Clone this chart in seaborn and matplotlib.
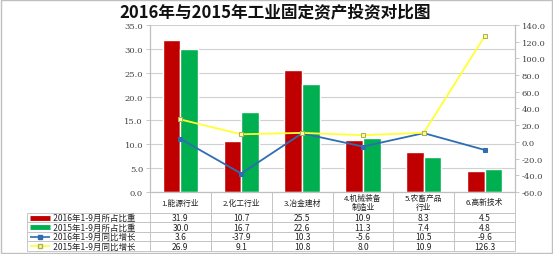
import numpy as np
import pandas as pd
import matplotlib
matplotlib.use("Agg")
import matplotlib.pyplot as plt
import seaborn as sns
from matplotlib.lines import Line2D
from matplotlib.patches import Rectangle

categories = ["1.能源行业", "2.化工行业", "3.冶金建材", "4.机械装备\n制造业", "5.农畜产品\n行业", "6.高新技术"]
share_2016 = [31.9, 10.7, 25.5, 10.9, 8.3, 4.5]
share_2015 = [30.0, 16.7, 22.6, 11.3, 7.4, 4.8]
growth_2016 = [3.6, -37.9, 10.3, -5.6, 10.5, -9.6]
growth_2015 = [26.9, 9.1, 10.8, 8.0, 10.9, 126.3]
series_names = ["2016年1-9月所占比重", "2015年1-9月所占比重", "2016年1-9月同比增长", "2015年1-9月同比增长"]
left_ticks = [0, 5, 10, 15, 20, 25, 30, 35]
right_ticks = [-60, -40, -20, 0, 20, 40, 60, 80, 100, 120, 140]

red = "#C00000"
green = "#00B050"
blue = "#2E6DB4"
yellow = "#FFFF33"

sns.set_theme(style="white")
plt.rcParams['font.family'] = ['Noto Sans CJK SC', 'DejaVu Sans']

fig = plt.figure(figsize=(5.53, 2.55), dpi=100)
ax = fig.add_axes([150/553, 1-193/255, 365/553, 167/255])

df = pd.DataFrame({
    "cat": categories * 2,
    "val": share_2016 + share_2015,
    "series": [series_names[0]] * 6 + [series_names[1]] * 6,
})
sns.barplot(data=df, x="cat", y="val", hue="series", palette=[red, green],
            width=0.58, ax=ax, legend=False, saturation=1)
ax.set_ylim(0, 35)
ax.set_xlim(-0.5, 5.5)
ax.set_yticks(left_ticks)
ax.set_yticklabels([f"{t:.1f}" for t in left_ticks], fontsize=6, family="DejaVu Serif", color="#404040")
ax.set_xticks([])
ax.set_xlabel("")
ax.set_ylabel("")
ax.grid(axis="y", color="#D0D0D0", linewidth=0.8)
ax.set_axisbelow(True)
ax.spines["top"].set_visible(False)
for s in ["left", "bottom", "right"]:
    ax.spines[s].set_color("#BFBFBF")
    ax.spines[s].set_linewidth(0.8)
ax.tick_params(axis="y", length=3, width=0.6, color="#BFBFBF", pad=2, left=True)

ax2 = ax.twinx()
xpos = np.arange(len(categories))
sns.lineplot(x=xpos, y=growth_2016, ax=ax2, color=blue, marker="s", markersize=3.5,
             markeredgecolor=blue, linewidth=1.3)
sns.lineplot(x=xpos, y=growth_2015, ax=ax2, color=yellow, marker="s", markersize=3.5,
             markerfacecolor="#FFFF99", markeredgecolor="#B0B050", linewidth=1.3)
ax2.set_ylim(-60, 140)
ax2.set_yticks(right_ticks)
ax2.set_yticklabels([f"{t:.1f}" for t in right_ticks], fontsize=6, family="DejaVu Serif", color="#404040")
ax2.tick_params(axis="y", length=3, width=0.6, color="#BFBFBF", pad=2, right=True)
ax2.set_xlim(-0.5, 5.5)
ax2.spines["top"].set_visible(False)
for s in ["left", "bottom", "right"]:
    ax2.spines[s].set_color("#BFBFBF")
    ax2.spines[s].set_linewidth(0.8)

# data table (first column holds the series names with legend keys)
value_rows = [share_2016, share_2015, growth_2016, growth_2015]
cell_text = [["      " + name] + [f"{v:.1f}" for v in vals]
             for name, vals in zip(series_names, value_rows)]
left_frac = (27 - 150) / 365
tbl = ax.table(cellText=cell_text, colLabels=[""] + categories, cellLoc="center",
               bbox=[left_frac, (193 - 252) / 167, 1 - left_frac, 59 / 167])
tbl.auto_set_font_size(False)
for (r, c), cell in tbl.get_celld().items():
    cell.set_edgecolor("#BFBFBF")
    cell.set_linewidth(0.6)
    t = cell.get_text()
    t.set_color("#222222")
    if r == 0:
        t.set_fontsize(5.6)
        t.set_linespacing(1.0)
        cell.set_height(0.44)
    else:
        t.set_fontsize(6.1)
        cell.set_height(0.2)
    cell.set_width(123 / 60.8 if c == 0 else 1.0)
    if c == 0:
        cell._loc = "left"
        cell.PAD = 0.02
        if r == 0:
            cell.visible_edges = ""

fig.canvas.draw()
renderer = fig.canvas.get_renderer()
inv = fig.transFigure.inverted()
key_styles = [
    dict(color=red, lw=3.5, marker=None),
    dict(color=green, lw=3.5, marker=None),
    dict(color=blue, lw=1.2, marker="s", ms=3, mfc=blue, mec=blue),
    dict(color=yellow, lw=1.2, marker="s", ms=3, mfc="#FFFF99", mec="#B0B050"),
]
for i, st in enumerate(key_styles):
    cell = tbl[(i + 1, 0)]
    bb = cell.get_window_extent(renderer).transformed(inv)
    yc = (bb.y0 + bb.y1) / 2
    x0 = bb.x0 + 0.005
    x1 = x0 + 0.036
    fig.add_artist(Line2D([x0, x1], [yc, yc], color=st["color"], lw=st["lw"],
                          solid_capstyle="butt", transform=fig.transFigure))
    if st["marker"]:
        fig.add_artist(Line2D([(x0 + x1) / 2], [yc], marker=st["marker"], ms=st["ms"],
                              mfc=st["mfc"], mec=st["mec"], transform=fig.transFigure))

fig.text(0.497, 1 - 12 / 255, "2016年与2015年工业固定资产投资对比图", ha="center", va="center",
         fontsize=12, fontweight="bold", color="#111111")

fig.add_artist(Rectangle((0.002, 0.004), 0.996, 0.992, transform=fig.transFigure,
                         fill=False, edgecolor="#BFBFBF", linewidth=1))

fig.savefig("out.png", dpi=100)
